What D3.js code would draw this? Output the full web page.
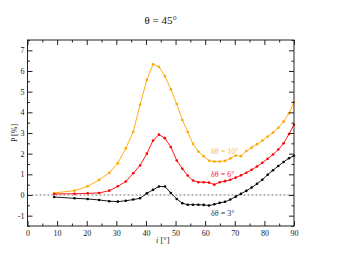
<!DOCTYPE html>
<html>
<head>
<meta charset="utf-8">
<script src="https://cdnjs.cloudflare.com/ajax/libs/d3/7.8.5/d3.min.js"></script>
<style>
  body { margin: 0; background: #fff; }
  svg { display: block; }
  svg text { font-family: "Liberation Serif", "DejaVu Serif", serif; }
  .frame { fill: none; stroke: #222; stroke-width: 1; }
  .tick line { stroke: #222; }
  .tick text { fill: #222; font-size: 8px; }
  .domain { display: none; }
</style>
</head>
<body>
<svg width="354" height="259"></svg>
<script>
// incidence angle i [deg]
var incidence = [9, 15.9, 20.3, 24.2, 27.6, 30.5, 33.2, 35.7, 38.0, 40.3, 42.4, 44.4, 46.4, 48.4,
  50.4, 52.3, 54.1, 55.9, 57.7, 59.5, 61.3, 63.1, 64.9, 66.7, 68.5, 70.3, 72.1, 73.9, 75.7,
  77.5, 79.3, 81.1, 82.9, 84.7, 86.5, 88.3, 90];

// P [%] for each dtheta
var p10 = [0.10, 0.21, 0.42, 0.73, 1.07, 1.54, 2.26, 3.05, 4.37, 5.57, 6.33, 6.20, 5.75, 5.12,
  4.40, 3.63, 3.05, 2.47, 2.10, 1.88, 1.66, 1.62, 1.62, 1.65, 1.77, 1.91, 1.88, 2.13, 2.29,
  2.46, 2.63, 2.83, 3.02, 3.25, 3.55, 3.95, 4.50];
var p6 = [0.05, 0.06, 0.08, 0.10, 0.21, 0.42, 0.65, 1.05, 1.43, 2.00, 2.64, 2.92, 2.75, 2.32,
  1.67, 1.27, 0.94, 0.70, 0.62, 0.62, 0.60, 0.50, 0.62, 0.67, 0.74, 0.84, 0.95, 1.08, 1.22,
  1.38, 1.56, 1.75, 1.96, 2.20, 2.50, 2.95, 3.40];
var p3 = [-0.10, -0.16, -0.19, -0.24, -0.30, -0.32, -0.28, -0.22, -0.16, 0.08, 0.25, 0.41, 0.41, 0.10,
  -0.19, -0.40, -0.47, -0.47, -0.47, -0.48, -0.51, -0.45, -0.38, -0.33, -0.22, -0.08, 0.06, 0.20, 0.36,
  0.54, 0.74, 0.98, 1.20, 1.40, 1.60, 1.78, 1.90];

var seriesNames = ["δθ = 10°", "δθ = 6°", "δθ = 3°"];
var seriesColors = ["#ffa500", "#ff0000", "#000000"];
var labelColors = ["#ffb733", "#ff2020", "#333333"];
var labelAnchor = [[62, 2.1], [62, 1.03], [62, -0.88]];

var svg = d3.select("svg"),
    margin = {top: 40, right: 60, bottom: 33, left: 27.5},
    width = +svg.attr("width") - margin.left - margin.right,
    height = +svg.attr("height") - margin.top - margin.bottom;

var x = d3.scaleLinear().domain([0, 90]).range([0, width]),
    y = d3.scaleLinear().domain([-1.5, 7.5]).range([height, 0]);

var g = svg.append("g")
    .attr("transform", "translate(" + margin.left + "," + margin.top + ")");

// zero line
g.append("line")
    .attr("x1", x(0)).attr("x2", x(90))
    .attr("y1", y(0)).attr("y2", y(0))
    .attr("stroke", "#555")
    .attr("stroke-width", 0.8)
    .attr("stroke-dasharray", "2,2");

var line = d3.line()
    .x(function(d) { return x(d.i); })
    .y(function(d) { return y(d.p); });

[p10, p6, p3].forEach(function(vals, k) {
  var data = incidence.map(function(v, j) { return {i: v, p: vals[j]}; });
  g.append("path")
      .datum(data)
      .attr("fill", "none")
      .attr("stroke", seriesColors[k])
      .attr("stroke-width", 0.9)
      .attr("d", line);
  g.selectAll(".pt" + k)
      .data(data)
      .enter().append("circle")
      .attr("class", "pt" + k)
      .attr("cx", function(d) { return x(d.i); })
      .attr("cy", function(d) { return y(d.p); })
      .attr("r", 1.3)
      .attr("fill", seriesColors[k]);
  g.append("text")
      .attr("x", x(labelAnchor[k][0]))
      .attr("y", y(labelAnchor[k][1]))
      .attr("dy", "0.35em")
      .attr("font-size", 8)
      .attr("fill", labelColors[k])
      .text(seriesNames[k]);
});

// axes, ticks inward
var xMajor = d3.range(0, 91, 10), xMinor = d3.range(5, 90, 10);
var yMajor = d3.range(-1, 8, 1), yMinor = d3.range(-1.5, 7.6, 1);

function axisG(axis, tx, ty) {
  return g.append("g")
      .attr("transform", "translate(" + tx + "," + ty + ")")
      .call(axis)
      .attr("font-family", "Liberation Serif, serif")
      .attr("font-size", 8);
}

axisG(d3.axisBottom(x).tickValues(xMajor).tickSize(-5).tickPadding(4).tickFormat(d3.format("d")), 0, height);
axisG(d3.axisBottom(x).tickValues(xMinor).tickSize(-2.5).tickFormat(""), 0, height);
axisG(d3.axisTop(x).tickValues(xMajor).tickSize(-5).tickFormat(""), 0, 0);
axisG(d3.axisTop(x).tickValues(xMinor).tickSize(-2.5).tickFormat(""), 0, 0);
axisG(d3.axisLeft(y).tickValues(yMajor).tickSize(-5).tickPadding(3).tickFormat(d3.format("d")), 0, 0);
axisG(d3.axisLeft(y).tickValues(yMinor).tickSize(-2.5).tickFormat(""), 0, 0);
axisG(d3.axisRight(y).tickValues(yMajor).tickSize(-5).tickFormat(""), width, 0);
axisG(d3.axisRight(y).tickValues(yMinor).tickSize(-2.5).tickFormat(""), width, 0);

g.selectAll(".tick text").text(function() { return this.textContent.replace("−", "-"); });

g.append("rect")
    .attr("class", "frame")
    .attr("width", width)
    .attr("height", height);

// titles
svg.append("text")
    .attr("x", margin.left + width / 2)
    .attr("y", 24)
    .attr("text-anchor", "middle")
    .attr("font-size", 11)
    .attr("fill", "#111")
    .text("θ = 45°");

var xt = svg.append("text")
    .attr("x", margin.left + width / 2 + 2)
    .attr("y", margin.top + height + 17)
    .attr("text-anchor", "middle")
    .attr("font-size", 8.5)
    .attr("fill", "#222");
xt.append("tspan").attr("font-style", "italic").text("i");
xt.append("tspan").text("  [°]");

svg.append("text")
    .attr("transform", "rotate(-90)")
    .attr("x", -(margin.top + height / 2))
    .attr("y", 14)
    .attr("dy", "0.35em")
    .attr("text-anchor", "middle")
    .attr("font-size", 8)
    .attr("fill", "#222")
    .text("P [%]");
</script>
</body>
</html>
